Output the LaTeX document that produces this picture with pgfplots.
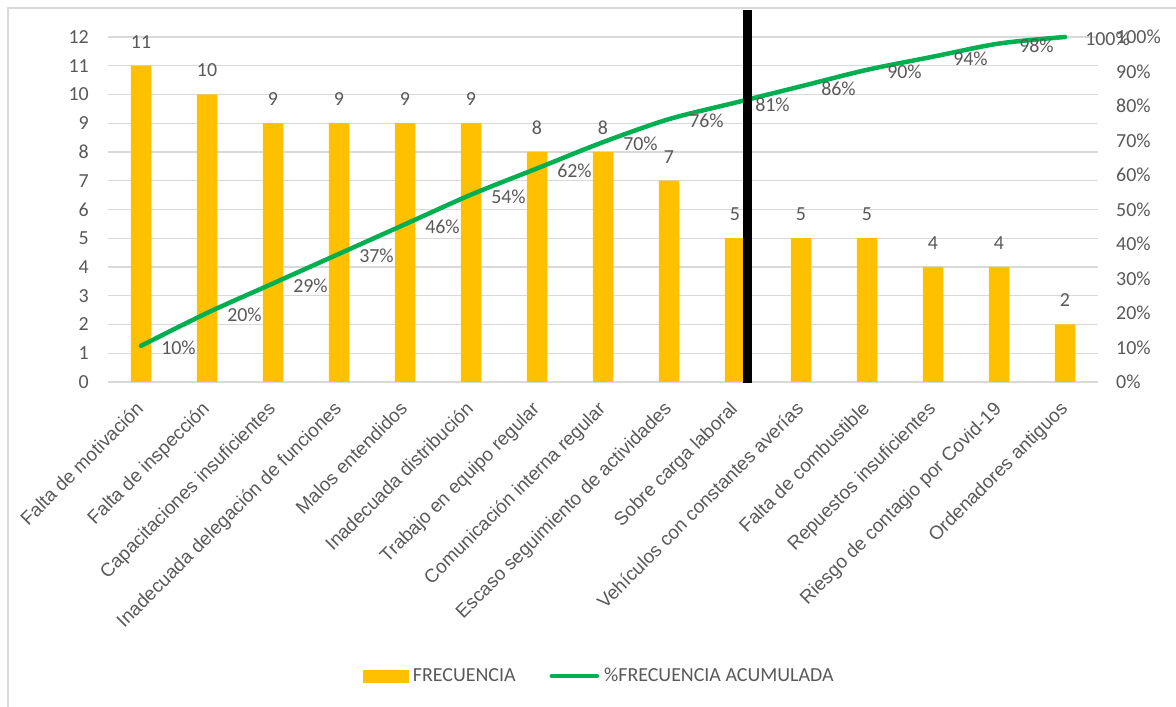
\documentclass[border=0pt]{standalone}
\usepackage{pgfplots}
\pgfplotsset{compat=1.18}
\usepackage{fontspec}
\setmainfont{Carlito}
\newfontfamily\arialf{Liberation Sans}
\definecolor{barc}{HTML}{FFC000}
\definecolor{linec}{HTML}{00B050}
\definecolor{txt}{HTML}{595959}
\definecolor{gridc}{HTML}{D9D9D9}
\begin{document}
\begin{tikzpicture}[x=1bp,y=1bp]
\useasboundingbox (0,0) rectangle (1176,707);
\fill[white] (0,0) rectangle (1176,707);
\draw[gridc, line width=2bp] (7.8,-5) -- (7.8,698.5) -- (1190,698.5);
\pgfplotsset{
  base/.style={
    scale only axis, width=990bp, height=345bp,
    at={(108bp,325bp)}, anchor=south west,
    xmin=-0.5, xmax=14.5,
    axis line style={draw=none},
    major tick length=0pt,
    tick style={draw=none},
    clip=false,
    /pgf/number format/assume math mode=true,
    tick label style={font=\fontsize{20}{24}\selectfont, text=txt},
  }
}
\begin{axis}[base,
  ymin=0, ymax=12, ytick={0,1,...,12},
  ymajorgrids, grid style={gridc, line width=1.2bp},
  xtick={0,...,14},
  xticklabels={Falta de motivación, Falta de inspección, Capacitaciones insuficientes, Inadecuada delegación de funciones, Malos entendidos, Inadecuada distribución, Trabajo en equipo regular, Comunicación interna regular, Escaso seguimiento de actividades, Sobre carga laboral, Vehículos con constantes averías, Falta de combustible, Repuestos insuficientes, Riesgo de contagio por Covid-19, Ordenadores antiguos},
  xticklabel style={font=\arialf\fontsize{19}{22}\selectfont, rotate=45, anchor=east, inner sep=0pt, text height=14bp, text depth=3.8bp},
  xticklabel shift=24.5bp,
  yticklabel style={anchor=east, inner sep=0pt, xshift=-19bp},
]
\addplot[ybar, bar width=20.5bp, fill=barc, draw=none,
  nodes near coords,
  nodes near coords style={font=\fontsize{20}{24}\selectfont, text=txt, anchor=south, inner sep=0pt, yshift=17.5bp}]
  coordinates {(0,11) (1,10) (2,9) (3,9) (4,9) (5,9) (6,8) (7,8) (8,7) (9,5) (10,5) (11,5) (12,4) (13,4) (14,2)};
\end{axis}
\begin{axis}[base,
  ymin=0, ymax=100, ytick={0,10,...,100},
  axis y line*=right, hide x axis,
  yticklabel={\pgfmathprintnumber{\tick}\%},
  yticklabel style={anchor=west, inner sep=0pt, xshift=18bp},
  legend style={at={(0.495,-0.852)}, anchor=center, draw=none, fill=none,
    legend columns=2, font=\fontsize{20}{24}\selectfont, text=txt,
    /tikz/every even column/.append style={column sep=34bp},
    inner sep=0pt, nodes={inner sep=0pt}},
]
\addlegendimage{legend image code/.code={\fill[barc] (0bp,-6bp) rectangle (45bp,6bp);}}
\addlegendentry{\hspace*{5bp}FRECUENCIA}
\addplot[linec, line width=4.5bp, smooth, line cap=round,
  legend image code/.code={\draw[linec, line width=4.5bp, line cap=round] (2bp,0bp) -- (47bp,0bp);},
  point meta=y,
  nodes near coords={\pgfmathprintnumber[fixed,precision=0]{\pgfplotspointmeta}\%},
  nodes near coords style={font=\fontsize{20}{24}\selectfont, text=txt, anchor=west, inner sep=0pt, xshift=18bp, yshift=-2bp}]
  coordinates {(0,10.48) (1,20.00) (2,28.57) (3,37.14) (4,45.71) (5,54.29) (6,61.90) (7,69.52) (8,76.19) (9,80.95) (10,85.71) (11,90.48) (12,94.29) (13,98.10) (14,100)};
\addlegendentry{\hspace*{5bp}\%FRECUENCIA ACUMULADA}
\addplot[black, line width=9bp, forget plot] coordinates {(9.19,-0.3) (9.19,107.8)};
\end{axis}
\end{tikzpicture}
\end{document}
